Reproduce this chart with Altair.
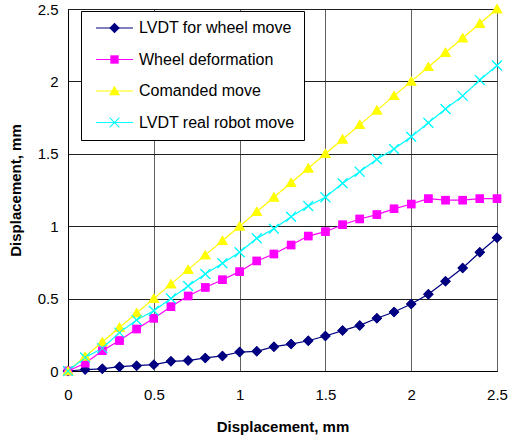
import altair as alt
import pandas as pd

x_vals = [0.0, 0.1, 0.2, 0.3, 0.4, 0.5, 0.6, 0.7, 0.8, 0.9, 1.0, 1.1, 1.2,
          1.3, 1.4, 1.5, 1.6, 1.7, 1.8, 1.9, 2.0, 2.1, 2.2, 2.3, 2.4, 2.5]

lvdt_wheel = [0.0, 0.01, 0.015, 0.03, 0.037, 0.044, 0.067, 0.072, 0.09, 0.104,
              0.131, 0.136, 0.168, 0.186, 0.209, 0.242, 0.279, 0.315, 0.364,
              0.407, 0.463, 0.53, 0.62, 0.711, 0.82, 0.92]
wheel_def = [0.0, 0.053, 0.14, 0.21, 0.29, 0.364, 0.444, 0.518, 0.577, 0.63,
             0.686, 0.76, 0.808, 0.87, 0.932, 0.962, 1.01, 1.05, 1.08, 1.12,
             1.153, 1.19, 1.18, 1.18, 1.19, 1.19]
commanded = [0.0, 0.1, 0.2, 0.3, 0.4, 0.5, 0.6, 0.7, 0.8, 0.9, 1.0, 1.1, 1.2,
             1.3, 1.4, 1.5, 1.6, 1.7, 1.8, 1.9, 2.0, 2.1, 2.2, 2.3, 2.4, 2.5]
lvdt_robot = [0.0, 0.094, 0.157, 0.265, 0.352, 0.416, 0.5, 0.587, 0.67, 0.744,
              0.82, 0.916, 0.983, 1.066, 1.14, 1.2, 1.296, 1.376, 1.462, 1.533,
              1.618, 1.715, 1.81, 1.9, 2.01, 2.11]

series_names = ["LVDT for wheel move", "Wheel deformation",
                "Comanded move", "LVDT real robot move"]
line_keys = [n + " " for n in series_names]
colors = ["#000080", "#FF00FF", "#FFFF00", "#00FFFF"]
shapes = [
    "M0,-1L1,0L0,1L-1,0Z",
    "M-0.8,-0.8L0.8,-0.8L0.8,0.8L-0.8,0.8Z",
    "M0,-1L1.05,0.8L-1.05,0.8Z",
    "M-1,-0.86L-0.86,-1L1,0.86L0.86,1Z M1,-0.86L-0.86,1L-1,0.86L0.86,-1Z",
]
tick_vals = [0, 0.5, 1, 1.5, 2, 2.5]

rows = []
for name, key, ys in zip(series_names, line_keys,
                         [lvdt_wheel, wheel_def, commanded, lvdt_robot]):
    for xv, yv in zip(x_vals, ys):
        rows.append({"x": xv, "y": yv, "series": name, "series2": key})
df = pd.DataFrame(rows)

FONT = "Liberation Sans"
LX, LY = 13, 2
LEG_FS = 16
ROWPAD = 15.5

x_enc = alt.X("x:Q", scale=alt.Scale(domain=[0, 2.5], nice=False),
              axis=alt.Axis(values=tick_vals, format=".1~f", title="Displacement, mm",
                            grid=True, gridColor="#606060", domainColor="#000000",
                            ticks=False, labelPadding=16, titlePadding=17,
                            labelFlush=False))
y_enc = alt.Y("y:Q", scale=alt.Scale(domain=[0, 2.5], nice=False),
              axis=alt.Axis(values=tick_vals, format=".1~f", title="Displacement, mm",
                            grid=True, gridColor="#202020", domainColor="#000000",
                            ticks=False, labelPadding=10, titlePadding=14,
                            labelFlush=False))

color_scale = alt.Scale(domain=series_names, range=colors)
shape_scale = alt.Scale(domain=series_names, range=shapes)

# markers carrying the (boxed) legend with labels
points_legend = alt.Chart(df).mark_point(filled=True, size=110, opacity=1).encode(
    x=x_enc, y=y_enc,
    color=alt.Color("series:N", scale=color_scale,
                    legend=alt.Legend(orient="none", legendX=LX, legendY=LY,
                                      title=None, symbolSize=110,
                                      symbolOffset=16.5,
                                      labelFontSize=LEG_FS, labelFont=FONT,
                                      labelColor="black", labelOffset=16.5,
                                      padding=9, rowPadding=ROWPAD,
                                      fillColor="white", strokeColor="black")),
    shape=alt.Shape("series:N", scale=shape_scale,
                    legend=alt.Legend(orient="none", legendX=LX, legendY=LY,
                                      title=None)),
)

# connecting lines with a line-only legend drawn over the boxed one
lines = alt.Chart(df).mark_line(strokeWidth=1.2).encode(
    x=x_enc, y=y_enc,
    stroke=alt.Stroke("series2:N",
                      scale=alt.Scale(domain=line_keys, range=colors),
                      legend=alt.Legend(orient="none", legendX=LX, legendY=LY,
                                        title=None, symbolType="M-3.5,0L3.5,0",
                                        symbolSize=112, symbolStrokeWidth=1.2,
                                        symbolOffset=16.5,
                                        labelExpr="''", labelFontSize=LEG_FS,
                                        labelFont=FONT,
                                        padding=9, rowPadding=ROWPAD)),
)

# markers again on top of lines, no legend
points_top = alt.Chart(df).mark_point(filled=True, size=110, opacity=1).encode(
    x=x_enc, y=y_enc,
    color=alt.Color("series:N", scale=color_scale, legend=None),
    shape=alt.Shape("series:N", scale=shape_scale, legend=None),
)

chart = alt.layer(points_legend, lines, points_top).properties(
    width=429, height=362,
    autosize=alt.AutoSizeParams(type="none"),
    padding={"left": 68, "top": 9, "right": 13, "bottom": 67},
    background="white",
).configure_view(stroke="#606060", strokeWidth=1).configure_axis(
    labelFont=FONT, titleFont=FONT, labelFontSize=15, titleFontSize=15,
    labelColor="black", titleColor="black", titleFontWeight="bold",
    gridOpacity=1, gridWidth=1,
)

chart.save("out.html", embed_options={"renderer": "svg", "actions": False})
